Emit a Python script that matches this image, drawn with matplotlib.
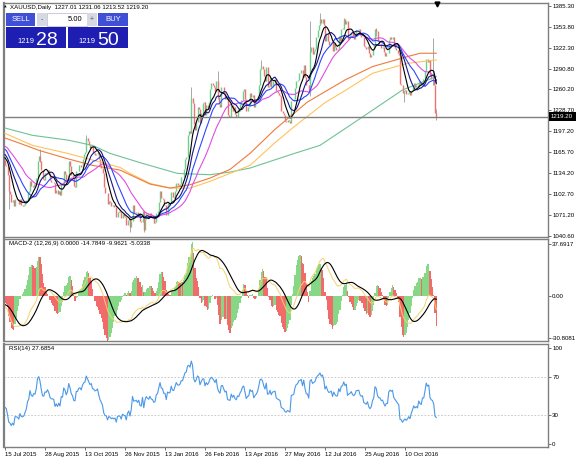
import numpy as np
import pandas as pd
import matplotlib
matplotlib.use("Agg")
import matplotlib.pyplot as plt
from matplotlib.patches import Rectangle

W, H = 576, 462

# daily closes just before the first visible bar (warm-up for MAs / MACD / RSI)
pre_closes = [1189, 1194, 1185, 1176, 1170, 1174, 1185, 1187, 1180, 1180, 1185, 1181,
              1177, 1201, 1201, 1185, 1176, 1175, 1172, 1173, 1179, 1172, 1168, 1163,
              1168, 1169, 1155, 1159, 1162, 1158, 1156, 1154]

# visible daily closes, 15 Jul 2015 .. 14 Nov 2016
closes = [
    1147, 1145, 1132, 1107, 1103, 1091, 1094, 1085, 1096, 1096, 1094, 1088, 1095,
    1086, 1085, 1086, 1090, 1094, 1104, 1108, 1123, 1115, 1113, 1118, 1117, 1127,
    1153, 1160, 1153, 1139, 1125, 1124, 1134,
    1133, 1139, 1134, 1124, 1121, 1121, 1120, 1105, 1109, 1103, 1108, 1102, 1118,
    1117, 1137, 1133, 1124, 1131, 1153, 1145, 1132, 1127, 1115, 1114, 1137, 1137,
    1146, 1147, 1143, 1156, 1163, 1166,
    1187, 1182, 1177, 1172, 1175, 1166, 1165, 1162, 1163, 1166, 1156, 1147, 1142,
    1135, 1114, 1105, 1104, 1088, 1093, 1091, 1085, 1086, 1083, 1084, 1069, 1076,
    1077, 1076, 1067, 1073, 1070, 1069,
    1056, 1064, 1067, 1053, 1062, 1086, 1074, 1075, 1076, 1071, 1075, 1063, 1061,
    1077, 1049, 1066, 1075, 1071, 1068, 1075, 1068, 1067, 1060, 1061, 1075, 1078,
    1091, 1108, 1097, 1096, 1086, 1086,
    1072, 1090, 1088, 1089, 1106, 1098, 1097, 1108, 1120, 1116, 1115, 1118, 1128,
    1128, 1141, 1156, 1159, 1191, 1197, 1194, 1247, 1239, 1208, 1199, 1211, 1233,
    1230, 1209, 1225, 1239, 1241, 1221,
    1237, 1231, 1241, 1260, 1270, 1267, 1263, 1257, 1272, 1249, 1238, 1233, 1263,
    1264, 1254, 1245, 1248, 1222, 1219, 1218, 1237, 1227, 1233, 1223, 1219, 1230,
    1228, 1238, 1244, 1257, 1260, 1245,
    1228, 1234, 1235, 1254, 1249, 1252, 1233, 1239, 1243, 1250, 1266, 1291, 1295,
    1291, 1280, 1273, 1294, 1264, 1265, 1277, 1264, 1273, 1274, 1276, 1257, 1254,
    1252, 1250, 1228, 1225, 1222, 1213,
    1211, 1214, 1212, 1209, 1242, 1243, 1245, 1262, 1272, 1274, 1284, 1285, 1289,
    1278, 1296, 1279, 1267, 1266, 1256, 1316, 1323, 1313, 1317, 1321, 1339, 1349,
    1356, 1366, 1359, 1366, 1356, 1333,
    1344, 1333, 1327, 1328, 1331, 1317, 1330, 1323, 1319, 1320, 1340, 1333, 1350,
    1352, 1366, 1358, 1363, 1335, 1339, 1341, 1346, 1339, 1336, 1340, 1349, 1349,
    1350, 1341, 1338, 1339, 1325, 1323,
    1321, 1325, 1314, 1309, 1312, 1321, 1326, 1350, 1347, 1333, 1328, 1328, 1322,
    1323, 1316, 1310, 1314, 1314, 1334, 1338, 1336, 1338, 1326, 1322, 1319, 1315,
    1312, 1268, 1266, 1254, 1257, 1259,
    1253, 1255, 1258, 1251, 1258, 1263, 1269, 1264, 1266, 1263, 1273, 1268, 1266,
    1276, 1276, 1288, 1306, 1301, 1304, 1281, 1276, 1274, 1266, 1225, 1219.2,
]

# bars with visible shadows
wick_idx = [3, 28, 65, 100, 111, 149, 170, 205, 244, 252, 271, 297, 319, 342, 345]
wick_high = [1132, 1170, 1191, 1062, 1077, 1263, 1287, 1304, 1362, 1375, 1367, 1352, 1258, 1337, 1231.06]
wick_low = [1080, 1151, 1178, 1046, 1046, 1194, 1245, 1290, 1250, 1356, 1350, 1340, 1241, 1267, 1213.52]

# slow moving averages (bar index, price)
slow1_idx = [0, 12, 28, 50, 70, 92, 116, 132, 148, 164, 180, 196, 216, 242, 272, 294, 322, 332, 345]
slow1_val = [1187, 1179, 1168, 1156, 1146, 1139, 1118, 1112, 1117, 1127, 1140, 1164, 1200, 1241, 1274, 1294, 1309, 1314, 1314]
slow2_idx = [0, 22, 50, 70, 92, 100, 116, 132, 148, 164, 180, 196, 216, 230, 256, 272, 294, 322, 345]
slow2_val = [1194, 1176, 1164, 1154, 1143, 1134, 1119, 1112, 1112, 1122, 1134, 1146, 1180, 1202, 1240, 1258, 1284, 1299, 1304]
slow3_idx = [0, 22, 50, 70, 84, 110, 138, 164, 180, 196, 230, 252, 284, 318, 345]
slow3_val = [1202, 1191, 1184, 1176, 1164, 1149, 1134, 1132, 1136, 1142, 1163, 1176, 1216, 1259, 1279]

price_ticks = [1385.30, 1353.80, 1322.30, 1290.80, 1260.20, 1228.70, 1197.20,
               1165.70, 1134.20, 1102.70, 1071.20, 1040.60]
date_idx = [0, 32, 64, 96, 128, 160, 192, 224, 256, 288, 320]
date_labels = ["15 Jul 2015", "28 Aug 2015", "13 Oct 2015", "26 Nov 2015", "13 Jan 2016",
               "26 Feb 2016", "13 Apr 2016", "27 May 2016", "12 Jul 2016", "25 Aug 2016",
               "10 Oct 2016"]
last_price = 1219.20

plt.rcParams['font.family'] = ['Liberation Sans', 'DejaVu Sans']
FS = 4.4

# indicators
n_pre = len(pre_closes)
s = pd.Series(pre_closes + closes, dtype=float)
fast_ma = {p: s.rolling(p, min_periods=1).mean().to_numpy()[n_pre:] for p in (8, 13, 21, 34)}
macd = s.ewm(span=12, adjust=False).mean() - s.ewm(span=26, adjust=False).mean()
signal = macd.rolling(9, min_periods=1).mean()
hist = 3 * (macd - signal)
up = (hist.diff() > 0).to_numpy()[n_pre:]
delta = s.diff()
gain = delta.clip(lower=0).ewm(alpha=1 / 14, adjust=False).mean()
loss = (-delta.clip(upper=0)).ewm(alpha=1 / 14, adjust=False).mean()
rsi = (100 - 100 / (1 + gain / loss)).to_numpy()[n_pre:]
macd = macd.to_numpy()[n_pre:]
signal = signal.to_numpy()[n_pre:]
hist = hist.to_numpy()[n_pre:]

bars = np.arange(len(closes))
c = np.array(closes)
o = np.concatenate([[pre_closes[-1]], c[:-1]])

fig = plt.figure(figsize=(W / 100, H / 100), dpi=100)
fig.patch.set_facecolor('white')


def box(top, bottom):
    return [4 / W, 1 - bottom / H, 544 / W, (bottom - top) / H]


ax_p = fig.add_axes(box(3, 237))
ax_m = fig.add_axes(box(239, 341))
ax_r = fig.add_axes(box(344, 447))

for ax in (ax_p, ax_m, ax_r):
    ax.set_xlim(-0.8, 434.4)
    for sp in ax.spines.values():
        sp.set_color('#7f7f7f')
        sp.set_linewidth(1.0)
    ax.spines['left'].set_linewidth(1.6)
    ax.yaxis.tick_right()
    ax.tick_params(axis='y', length=2, width=0.6, labelsize=FS, pad=1, color='#555555')
    ax.tick_params(axis='x', bottom=False, labelbottom=False)

# price panel
ax_p.set_ylim(1038.7, 1389.3)
ax_p.set_yticks(price_ticks)
ax_p.set_yticklabels([f"{v:.2f}" for v in price_ticks])
ax_p.vlines(np.array(wick_idx), wick_low, wick_high, colors='#9a9a9a', lw=0.6, zorder=2)
bull = c >= o
ax_p.vlines(bars[bull], o[bull], c[bull], colors='#6ccf8a', lw=1.0, zorder=3)
ax_p.vlines(bars[~bull], c[~bull], o[~bull], colors='#ee7272', lw=1.0, zorder=3)
ax_p.plot(slow3_idx, slow3_val, color='#6fc196', lw=0.8, zorder=4)
ax_p.plot(slow2_idx, slow2_val, color='#ffc35c', lw=0.8, zorder=4)
ax_p.plot(slow1_idx, slow1_val, color='#f07a3c', lw=0.8, zorder=4)
ax_p.plot(bars, fast_ma[34], color='#e14ee1', lw=0.8, zorder=5)
ax_p.plot(bars, fast_ma[21], color='#2f46ff', lw=0.8, zorder=5)
ax_p.plot(bars, fast_ma[13], color='#16168c', lw=0.8, zorder=5)
ax_p.plot(bars, fast_ma[8], color='black', lw=0.8, zorder=6)
ax_p.axhline(last_price, color='#7f7f7f', lw=1.0, zorder=7)

# MACD panel
ax_m.set_ylim(-33.0, 41.6)
ax_m.set_yticks([37.6917, 0, -30.8081])
ax_m.set_yticklabels(["37.6917", "0.00", "-30.8081"])
ax_m.bar(bars, hist, width=0.85, color=np.where(up, '#86d886', '#f26b6b'), linewidth=0)
ax_m.plot(bars, macd, color='#f3d36a', lw=0.7)
ax_m.plot(bars, signal, color='black', lw=0.8)
ax_m.text(3, 40, "MACD-2 (12,26,9) 0.0000 -14.7849 -9.9621 -5.0338", fontsize=FS, va='top')

# RSI panel
ax_r.set_ylim(-3.1, 104.2)
ax_r.set_yticks([100, 70, 30, 0])
ax_r.set_yticklabels(["100", "70", "30", "0"])
for lvl in (70, 30):
    ax_r.axhline(lvl, color='#c0c0c0', lw=0.6, ls=(0, (2, 2)))
ax_r.plot(bars, rsi, color='#4a98e8', lw=0.8)
ax_r.text(3, 102.5, "RSI(14) 27.6854", fontsize=FS, va='top')
ax_r.tick_params(axis='x', bottom=True, labelbottom=True, length=2, width=0.6,
                 labelsize=FS, pad=1.5, color='#555555')
ax_r.set_xticks(date_idx)
ax_r.set_xticklabels(date_labels, ha='left')

# overlay in pixel coordinates for the trade panel and markers
ov = fig.add_axes([0, 0, 1, 1])
ov.set_xlim(0, W)
ov.set_ylim(H, 0)
ov.axis('off')
ov.patch.set_alpha(0)


def rect(x0, y0, x1, y1, fc, ec='none', lw=0.0):
    ov.add_patch(Rectangle((x0, y0), x1 - x0, y1 - y0, facecolor=fc, edgecolor=ec, linewidth=lw))


ov.text(4, 7, "\u25b2", fontsize=2.5, va='center', family=['DejaVu Sans'])
ov.text(10, 7, "XAUUSD,Daily  1227.01 1231.06 1213.52 1219.20", fontsize=FS, va='center')

rect(6, 13, 35, 26, '#3f4fd6')
ov.text(20.5, 19.5, "SELL", color='white', fontsize=5.5, ha='center', va='center')
rect(37, 13, 47, 26, '#d6d8e4')
ov.text(42, 19.5, "-", fontsize=5, ha='center', va='center', color='#555555')
rect(47, 13, 87, 26, 'white', ec='#b8b8c8', lw=0.5)
ov.text(82, 19.5, "5.00", fontsize=5.5, ha='right', va='center')
rect(87, 13, 97, 26, '#d6d8e4')
ov.text(92, 19.5, "+", fontsize=5, ha='center', va='center', color='#555555')
rect(98, 13, 128, 26, '#3f4fd6')
ov.text(113, 19.5, "BUY", color='white', fontsize=5.5, ha='center', va='center')
rect(6, 27, 66, 48, '#1e1eb2')
rect(68, 27, 128, 48, '#1e1eb2')
ov.text(17, 43, "1219", color='white', fontsize=5.5, va='baseline')
ov.text(36, 45, "28", color='white', fontsize=14, va='baseline')
ov.text(78, 43, "1219", color='white', fontsize=5.5, va='baseline')
ov.text(97, 45, "50", color='white', fontsize=14, va='baseline')

rect(549, 112, 576, 121, 'black')
ov.text(562, 116.5, "1219.20", color='white', fontsize=FS, ha='center', va='center')
ov.plot([437], [4], marker='v', ms=3.5, color='black')

fig.savefig("out.png", dpi=100, facecolor='white')
plt.close(fig)
